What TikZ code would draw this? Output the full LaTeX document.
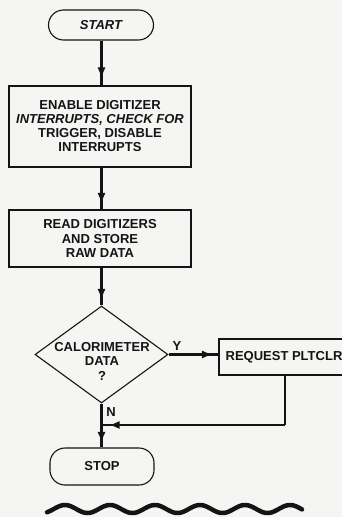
\documentclass[tikz,border=0pt]{standalone}
\usepackage{fontspec}
\setmainfont{Liberation Sans}
\usetikzlibrary{shapes.geometric,arrows.meta,decorations.markings}
\definecolor{paper}{RGB}{245,245,243}
\definecolor{ink}{RGB}{20,20,20}
\tikzset{
  lbl/.style={font=\bfseries\fontsize{13}{14.5}\selectfont, text=ink, align=center, inner sep=0pt},
  term/.style={draw=ink, line width=1.1pt, rounded corners=15pt, lbl},
  procbox/.style={draw=ink, line width=1.1pt, lbl},
  dec/.style={draw=ink, line width=1.1pt, diamond, inner sep=0pt, minimum width=133pt, minimum height=97pt},
  flow/.style={draw=ink, line width=2.2pt, postaction={decorate},
    decoration={markings, mark=at position #1 with {\arrow{Triangle[length=9pt,width=7pt]}}}},
  plain/.style={draw=ink, line width=2.2pt},
}
\begin{document}
\begin{tikzpicture}[x=1pt,y=-1pt]
\fill[paper] (0,0) rectangle (342,517);
\useasboundingbox (0,0) rectangle (342,517);
\node[term, minimum width=105pt, minimum height=30pt] (start) at (101,25) {\itshape START};
\node[procbox, minimum width=182pt, minimum height=81pt, font=\bfseries\fontsize{13}{14}\selectfont] (b1) at (100,126.5)
  {ENABLE DIGITIZER\\\itshape INTERRUPTS, CHECK FOR\\TRIGGER, DISABLE\\INTERRUPTS};
\node[procbox, minimum width=182pt, minimum height=57pt] (b2) at (100,238.5)
  {READ DIGITIZERS\\AND STORE\\RAW DATA};
\node[dec] (dec) at (101.5,354.5) {};
\node[lbl] (dect) at (102,361) {CALORIMETER\\DATA\\?};
\node[procbox, minimum width=130pt, minimum height=36pt] (req) at (284,357) {REQUEST PLTCLR};
\node[term, minimum width=104pt, minimum height=37pt] (stop) at (102,466.5) {STOP};
\coordinate (turn) at (285,425);
\coordinate (join) at (101.5,425);
\node[lbl] (ylab) at (177,346) {Y};
\node[lbl] (nlab) at (111,412) {N};

\draw[flow=0.8] (start.south -| join) -- (b1.north -| join);
\draw[flow=0.82] (b1.south -| join) -- (b2.north -| join);
\draw[flow=0.8] (b2.south -| join) -- (dec.north);
\draw[flow=0.85] (dec.east) -- (req.west |- dec.east);
\draw[plain] (req.south -| turn) -- (turn);
\draw[flow=0.95] (turn) -- (join);
\draw[flow=0.85] (dec.south) -- (stop.north -| dec.south);

\draw[ink, line width=4.5pt, line cap=round] plot[domain=47:302, samples=160, smooth] (\x, {509 - 4*cos((\x-65)/45*360)});
\end{tikzpicture}
\end{document}
